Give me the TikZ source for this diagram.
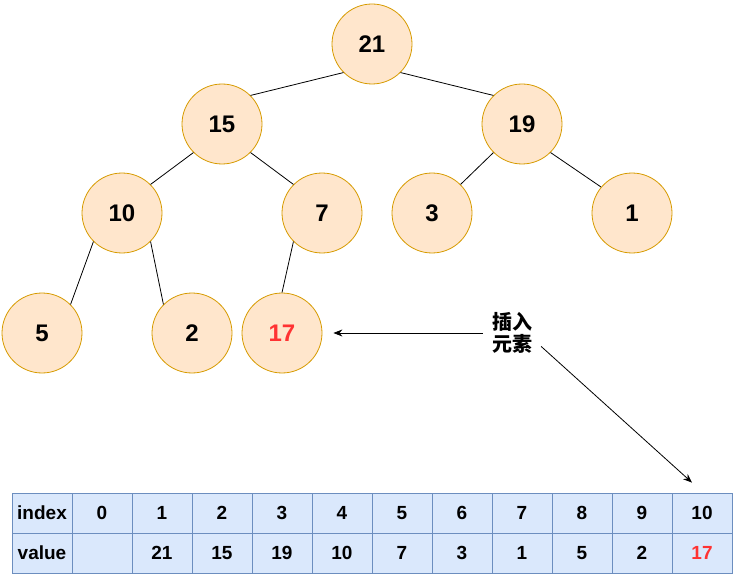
\documentclass[tikz,border=0pt]{standalone}
\usepackage{fontspec}
\setmainfont{Liberation Sans}
\newfontfamily\cjk{Noto Sans CJK SC}
\usetikzlibrary{arrows.meta,calc}
\definecolor{nodefill}{HTML}{FFE6CC}
\definecolor{nodeline}{HTML}{D79B00}
\definecolor{cellfill}{HTML}{DAE8FC}
\definecolor{cellline}{HTML}{6C8EBF}
\definecolor{hot}{HTML}{FF3333}
\begin{document}
\begin{tikzpicture}[x=1pt,y=-1pt,
  heapnode/.style={circle, draw=nodeline, fill=nodefill, line width=0.8pt,
    minimum size=80pt, inner sep=0pt, font=\bfseries\fontsize{24}{28}\selectfont},
  edge/.style={draw=black, line width=0.8pt},
  cell/.style={rectangle, draw=cellline, fill=cellfill, line width=0.8pt,
    minimum width=60pt, minimum height=40pt, inner sep=0pt,
    font=\bfseries\fontsize{19}{23}\selectfont},
  lbl/.style={minimum width=58pt, minimum height=40pt, inner sep=0pt, align=center,
    font=\cjk\bfseries\fontsize{20}{22}\selectfont},
  pointer/.style={draw=black, line width=0.8pt, -{Stealth[length=9pt,width=7pt]}}]
\useasboundingbox (0,0) rectangle (737,583);

% heap nodes
\node[heapnode] (n21) at (372,44) {21};
\node[heapnode] (n15) at (222,124) {15};
\node[heapnode] (n19) at (522,124) {19};
\node[heapnode] (n10) at (122,213) {10};
\node[heapnode] (n7)  at (322,213) {7};
\node[heapnode] (n3)  at (432,213) {3};
\node[heapnode] (n1)  at (632,213) {1};
\node[heapnode] (n5)  at (42,333) {5};
\node[heapnode] (n2)  at (192,333) {2};
\node[heapnode, text=hot] (n17) at (282,333) {17};

% tree edges
\draw[edge] (n21.225) -- (n15.45);
\draw[edge] (n21.-45) -- (n19.135);
\draw[edge] (n15.225) -- (n10.45);
\draw[edge] (n15.-45) -- (n7.135);
\draw[edge] (n19.225) -- (n3.45);
\draw[edge] (n19.-45) -- (n1.140);
\draw[edge] (n10.225) -- (n5.45);
\draw[edge] (n10.-45) -- (n2.135);
\draw[edge] (n7.225) -- (n17.90);

% table
\foreach \t [count=\i from 0] in {index,0,1,2,3,4,5,6,7,8,9,10}
  \node[cell] (idx\i) at (42+60*\i,513) {\t};
\foreach \t [count=\i from 0] in {value,{},21,15,19,10,7,3,1,5,2}
  \node[cell] (val\i) at (42+60*\i,553) {\t};
\node[cell, text=hot] (val11) at (702,553) {17};

% label and pointers
\node[lbl] (ins) at (512,333) {插入\\元素};
\coordinate (tipA) at ($(n17.east)+(11,0)$);
\coordinate (tipB) at ($(idx11.north)+(-10,-10)$);
\draw[pointer] (ins.west) -- (tipA);
\draw[pointer] ($(ins.east)!0.65!(ins.south east)$) -- (tipB);
\end{tikzpicture}
\end{document}
